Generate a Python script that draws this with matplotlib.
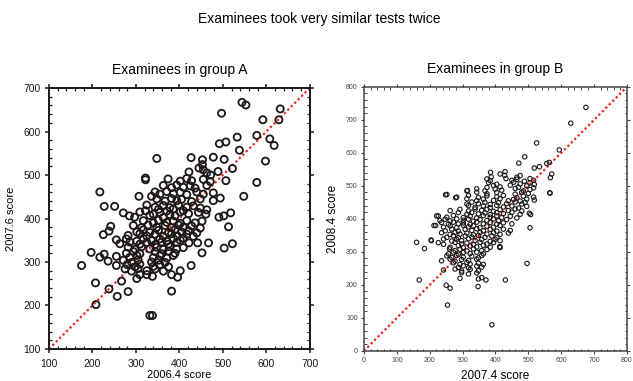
import numpy as np
import matplotlib.pyplot as plt

plt.rcParams['font.family'] = ['Liberation Sans', 'DejaVu Sans']

# group A: (2006.4 score, 2007.6 score)
group_a = [
    (348, 538), (427, 540), (453, 535), (478, 541), (503, 536),
    (422, 507), (445, 516), (453, 524), (455, 512), (463, 505), (472, 500),
    (322, 489), (322, 493), (374, 491), (402, 486), (417, 492), (428, 487), (455, 490), (471, 485),
    (363, 476), (382, 471), (394, 477), (409, 472), (425, 475), (436, 470), (463, 476),
    (344, 461), (355, 456), (371, 462), (386, 457), (402, 460), (417, 455), (440, 461), (455, 456), (478, 459),
    (307, 451), (336, 451), (494, 447), (548, 451),
    (348, 445), (367, 440), (382, 446), (394, 441), (405, 444), (428, 439), (448, 445), (478, 441),
    (227, 428), (251, 428), (325, 431), (344, 426), (363, 430), (378, 425), (398, 431), (417, 426), (432, 429), (448, 424),
    (322, 418), (352, 421), (371, 417), (386, 422), (409, 418), (463, 420),
    (271, 413), (285, 406), (309, 415), (340, 410), (355, 414), (378, 409), (402, 415), (421, 411), (444, 414), (461, 410), (518, 413),
    (491, 403), (502, 406), (297, 403), (332, 407), (363, 402), (390, 406),
    (317, 395), (340, 390), (352, 396), (371, 391), (386, 394), (402, 389), (417, 395), (436, 390), (452, 394),
    (242, 382), (294, 384), (313, 379), (328, 385), (348, 380), (367, 384), (382, 379), (398, 385), (409, 380), (428, 383), (448, 378), (513, 381),
    (238, 371), (302, 369), (317, 374), (332, 368), (352, 373), (375, 368), (390, 374), (405, 369), (421, 372), (440, 367),
    (225, 363), (282, 361), (309, 365), (325, 360), (344, 364), (363, 359), (382, 365), (395, 360), (417, 364), (432, 359),
    (255, 351), (278, 353), (302, 348), (317, 354), (336, 349), (355, 353), (371, 348), (386, 354), (402, 350), (409, 355),
    (263, 342), (286, 346), (309, 341), (325, 345), (344, 340), (359, 346), (375, 341), (394, 345), (422, 344), (442, 344), (467, 344), (522, 342),
    (282, 334), (298, 329), (313, 335), (332, 330), (348, 334), (363, 329), (378, 335), (394, 330), (409, 333), (503, 332),
    (197, 322), (227, 318), (278, 320), (294, 324), (309, 319), (344, 324), (359, 319), (375, 325), (390, 320), (452, 321),
    (217, 311), (255, 313), (286, 311), (302, 315), (340, 310), (355, 314), (371, 309), (386, 315),
    (236, 302), (271, 304), (290, 299), (305, 305), (336, 300), (352, 304), (367, 299),
    (175, 292), (255, 292), (280, 294), (298, 289), (309, 295), (340, 290), (355, 294), (375, 289), (427, 292),
    (275, 284), (290, 279), (305, 285), (325, 280), (344, 284), (363, 279), (402, 280),
    (309, 271), (325, 271), (338, 267), (382, 271),
    (302, 262), (396, 265),
    (207, 252), (267, 256),
    (238, 238), (282, 232), (382, 233),
    (257, 221), (208, 202), (332, 177), (338, 177),
    (544, 667), (553, 661), (632, 652), (497, 642), (592, 627), (629, 627), (578, 591), (608, 583),
    (618, 568), (533, 587), (492, 572), (507, 576), (538, 557), (598, 532), (578, 483), (522, 515),
    (507, 487), (489, 508), (217, 461),
]

# group B: (2007.4 score, 2008.4 score)
group_b = [
    (385, 541), (414, 536), (429, 543),
    (387, 527), (428, 532), (465, 526), (475, 531),
    (374, 521), (384, 516), (432, 522), (450, 517), (465, 520), (488, 514), (505, 522), (516, 517),
    (379, 510), (404, 505), (455, 511), (475, 506), (505, 509), (518, 504),
    (374, 495), (394, 501), (414, 497), (445, 502), (470, 496), (495, 500), (516, 494),
    (315, 486), (343, 491), (368, 485), (399, 490), (419, 487), (460, 492), (485, 485), (505, 489),
    (252, 474), (343, 481), (374, 476), (404, 480), (460, 475), (480, 481), (500, 477), (566, 478),
    (282, 466), (318, 471), (348, 465), (374, 470), (404, 467), (424, 471), (465, 464), (485, 469), (516, 466),
    (313, 461), (343, 455), (363, 460), (394, 456), (414, 461), (439, 455), (455, 459), (475, 454), (495, 460), (518, 457),
    (313, 445), (328, 451), (348, 446), (368, 450), (384, 444), (409, 449), (434, 446), (460, 451), (480, 445), (490, 450),
    (318, 440), (338, 435), (363, 439), (384, 434), (404, 441), (424, 436), (450, 439), (470, 433), (495, 438),
    (262, 425), (292, 429), (318, 424), (338, 430), (358, 426), (374, 429), (394, 423), (414, 428), (439, 425), (460, 430), (480, 424),
    (287, 419), (313, 414), (328, 420), (348, 415), (368, 418), (384, 413), (404, 419), (424, 416), (450, 420), (475, 414), (503, 417),
    (226, 409), (252, 405), (272, 410), (302, 404), (323, 408), (343, 403), (363, 410), (384, 405), (404, 409), (419, 404), (445, 408), (465, 403),
    (231, 395), (247, 399), (262, 394), (282, 400), (302, 396), (318, 399), (333, 393), (353, 398), (374, 395), (394, 400), (409, 394), (434, 398),
    (236, 389), (257, 384), (272, 390), (287, 385), (302, 388), (323, 383), (343, 390), (363, 385), (384, 389), (404, 384), (424, 388), (450, 385),
    (218, 380), (242, 375), (262, 379), (282, 374), (302, 381), (318, 376), (333, 379), (353, 373), (374, 378), (394, 375), (414, 380),
    (247, 364), (267, 369), (287, 363), (308, 368), (328, 365), (343, 370), (363, 364), (384, 368), (404, 363), (424, 369), (445, 365),
    (236, 358), (262, 353), (277, 359), (292, 354), (313, 357), (333, 352), (353, 359), (374, 354), (394, 358), (414, 353), (439, 357),
    (252, 344), (272, 349), (287, 343), (308, 348), (328, 345), (348, 350), (368, 344), (389, 348), (404, 343),
    (204, 336), (242, 339), (267, 333), (282, 338), (297, 334), (318, 340), (338, 335), (358, 338), (384, 332), (399, 338), (414, 334),
    (226, 328), (242, 323), (277, 329), (297, 324), (313, 327), (333, 322), (353, 329), (374, 324), (394, 328),
    (262, 314), (287, 319), (302, 313), (323, 318), (343, 315), (363, 320), (384, 314), (413, 316),
    (260, 309), (277, 304), (292, 308), (313, 303), (333, 309), (358, 304), (374, 307),
    (257, 294), (272, 299), (287, 293), (302, 298), (323, 295), (343, 299), (363, 294),
    (252, 288), (267, 283), (282, 289), (302, 284), (328, 287), (348, 282), (358, 289),
    (236, 273), (262, 278), (277, 272), (297, 277), (318, 274), (343, 278),
    (272, 267), (292, 262), (313, 268), (323, 263), (348, 266), (363, 262),
    (287, 253), (302, 258), (318, 252), (343, 257), (358, 254),
    (242, 245), (277, 248), (297, 242), (323, 247), (348, 243),
    (297, 237), (318, 233), (343, 236),
    (292, 220), (348, 218), (358, 222),
    (675, 738), (629, 690), (525, 630), (594, 609), (489, 588), (471, 569), (556, 568), (564, 571),
    (534, 558), (518, 554), (571, 536), (567, 525), (565, 479), (160, 329), (184, 310), (168, 215),
    (205, 334), (213, 380), (221, 409), (248, 473), (279, 464), (313, 485), (250, 199), (262, 190),
    (254, 139), (389, 79), (430, 215), (371, 215), (347, 195), (496, 265), (414, 313), (505, 373), (507, 413),
]

a = np.array(group_a)
b = np.array(group_b)

fig = plt.figure(figsize=(6.33, 3.81), dpi=100)
fig.text(0.505, 0.951, 'Examinees took very similar tests twice', ha='center', va='center', fontsize=10)

ax1 = fig.add_axes([0.0774, 0.084, 0.412, 0.685])
ax2 = fig.add_axes([0.575, 0.079, 0.4155, 0.693])

# group A
ax1.plot([100, 700], [100, 700], ls=(0, (1, 1.2)), color='#e8231f', lw=1.6, zorder=1)
ax1.scatter(a[:, 0], a[:, 1], s=26, facecolors='none', edgecolors='#1c1717', linewidths=1.3, zorder=2)
ax1.set_xlim(100, 700)
ax1.set_ylim(100, 700)
ax1.set_xticks(np.arange(100, 701, 100))
ax1.set_yticks(np.arange(100, 701, 100))
ax1.set_xticks(np.arange(100, 701, 20), minor=True)
ax1.set_yticks(np.arange(100, 701, 20), minor=True)
ax1.tick_params(which='major', direction='out', length=3, width=1.1, labelsize=7.5,
                top=True, right=True, pad=3, colors='#1c1717')
ax1.tick_params(which='minor', direction='in', length=2, width=0.9,
                top=True, right=True, colors='#1c1717')
ax1.tick_params(axis='x', pad=4)
ax1.set_xlabel('2006.4 score', fontsize=8, labelpad=1)
ax1.set_ylabel('2007.6 score', fontsize=8, labelpad=5)
ax1.set_title('Examinees in group A', fontsize=10, pad=10)
for sp in ax1.spines.values():
    sp.set_linewidth(1.4)
    sp.set_color('#1c1717')

# group B
ax2.plot([0, 800], [0, 800], ls=(0, (1, 1.2)), color='#e8231f', lw=1.6, zorder=1)
ax2.scatter(b[:, 0], b[:, 1], s=10, facecolors='none', edgecolors='#1c1717', linewidths=0.8, zorder=2)
ax2.set_xlim(0, 800)
ax2.set_ylim(0, 800)
ax2.set_xticks(np.arange(0, 801, 100))
ax2.set_yticks(np.arange(0, 801, 100))
ax2.set_xticks(np.arange(0, 801, 20), minor=True)
ax2.set_yticks(np.arange(0, 801, 20), minor=True)
ax2.tick_params(which='major', direction='out', length=2.5, width=0.8, labelsize=5,
                top=True, right=True, pad=2, colors='#444444', labelcolor='#444444')
ax2.tick_params(which='minor', direction='in', length=1.8, width=0.7,
                top=True, right=True, colors='#444444')
ax2.set_xlabel('2007.4 score', fontsize=8.5, labelpad=4)
ax2.set_ylabel('2008.4 score', fontsize=8.5, labelpad=5)
ax2.set_title('Examinees in group B', fontsize=10, pad=10)
for sp in ax2.spines.values():
    sp.set_linewidth(1.1)
    sp.set_color('#444444')

fig.savefig('out.png', dpi=100)
